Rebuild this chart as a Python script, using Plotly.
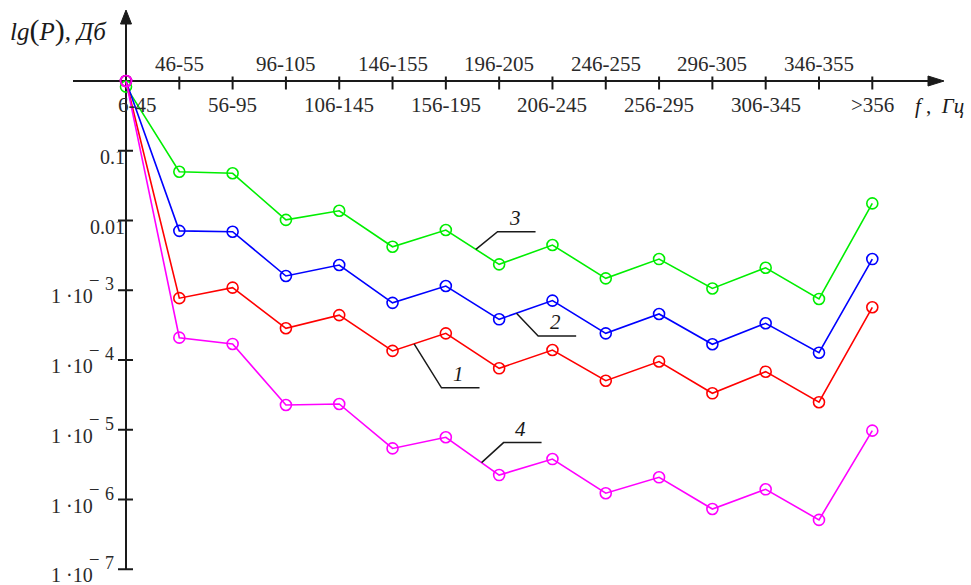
import numpy as np
import plotly.graph_objects as go

# Frequency bands (Hz) along the horizontal axis
bands = ["6-45", "46-55", "56-95", "96-105", "106-145", "146-155", "156-195",
         "196-205", "206-245", "246-255", "256-295", "296-305", "306-345",
         "346-355", ">356"]

# Spectral power per band for the four records
p1 = [1.0, 7.7e-4, 1.09e-3, 2.85e-4, 4.4e-4, 1.35e-4, 2.41e-4, 7.6e-5,
      1.39e-4, 5.05e-5, 9.5e-5, 3.33e-5, 6.8e-5, 2.48e-5, 5.7e-4]
p2 = [1.0, 7.1e-3, 6.9e-3, 1.6e-3, 2.3e-3, 6.6e-4, 1.15e-3, 3.83e-4,
      7.1e-4, 2.41e-4, 4.57e-4, 1.68e-4, 3.36e-4, 1.27e-4, 2.8e-3]
p3 = [0.83, 0.050, 0.0475, 0.0102, 0.0138, 0.0042, 0.0073, 0.00235,
      0.00445, 0.00148, 0.0028, 0.00106, 0.0021, 7.5e-4, 0.0176]
p4 = [1.0, 2.09e-4, 1.7e-4, 2.26e-5, 2.34e-5, 5.4e-6, 7.8e-6, 2.24e-6,
      3.8e-6, 1.23e-6, 2.08e-6, 7.3e-7, 1.4e-6, 5.1e-7, 9.7e-6]

decades = [-1, -2, -3, -4, -5, -6, -7]

W, H = 971, 585
PX_X = 53.307          # pixels per band
PX_DEC = 69.75         # pixels per decade
X0_PX, Y1_PX = 126.0, 81.0   # pixel position of (first band, P = 1)

xr = [-X0_PX / PX_X, (W - X0_PX) / PX_X]
yr = [(Y1_PX - H) / PX_DEC, Y1_PX / PX_DEC]

idx = list(range(len(bands)))
SERIF = "Liberation Serif, Times New Roman, serif"
INK = "#1a1a1a"

fig = go.Figure()

def px_dx(d):
    return d / PX_X

def px_dy_log(d):
    # upward pixel offset expressed as log10 shift
    return d / PX_DEC

# ---- axes drawn as plain line traces ----
tip_y = 10 ** px_dy_log(Y1_PX - 10)
base_y = 10 ** px_dy_log(Y1_PX - 24)
tip_x = px_dx(944 - X0_PX)
base_x = px_dx(928 - X0_PX)
line_kw = dict(mode="lines", hoverinfo="skip", showlegend=False,
               line=dict(color=INK, width=2))
fig.add_trace(go.Scatter(x=[px_dx(73 - X0_PX), base_x], y=[1, 1], **line_kw))
fig.add_trace(go.Scatter(x=[0, 0], y=[10 ** decades[-1], base_y], **line_kw))

# arrow heads
fig.add_trace(go.Scatter(
    x=[0, px_dx(-5.5), px_dx(5.5), 0],
    y=[tip_y, base_y, base_y, tip_y],
    mode="lines", fill="toself", fillcolor=INK, hoverinfo="skip",
    showlegend=False, line=dict(color=INK, width=1)))
fig.add_trace(go.Scatter(
    x=[tip_x, base_x, base_x, tip_x],
    y=[1, 10 ** px_dy_log(5), 10 ** px_dy_log(-5), 1],
    mode="lines", fill="toself", fillcolor=INK, hoverinfo="skip",
    showlegend=False, line=dict(color=INK, width=1)))

# tick marks
tx, ty = [], []
for i in idx[1:]:
    tx += [i, i, None]
    ty += [10 ** px_dy_log(4.5), 10 ** px_dy_log(-8.5), None]
for d in decades:
    tx += [px_dx(-8), px_dx(7), None]
    ty += [10 ** d, 10 ** d, None]
fig.add_trace(go.Scatter(x=tx, y=ty, **line_kw))

# ---- data series ----
series = [(p3, "#00ee00"), (p2, "#0000ff"), (p1, "#ff0000"), (p4, "#ff00ff")]
for vals, col in series:
    fig.add_trace(go.Scatter(
        x=idx, y=vals, mode="lines+markers", showlegend=False,
        line=dict(color=col, width=1.6),
        marker=dict(symbol="circle-open", size=11, color=col,
                    line=dict(width=1.6, color=col))))

# ---- curve callouts ----
callouts = [
    ("3", p3, 6, 0.563, 21.7, 17.6),
    ("2", p2, 7, 0.325, 21.7, -22.7),
    ("1", p1, 5, 0.405, 27.4, -44.0),
    ("4", p4, 6, 0.67, 22.0, 20.0),
]
annotations = []
for text, vals, seg, frac, dx, dy in callouts:
    lx = seg + frac
    ly = np.log10(vals[seg]) + frac * (np.log10(vals[seg + 1]) - np.log10(vals[seg]))
    ex = lx + px_dx(dx)
    ey = ly + px_dy_log(dy)
    fx = ex + px_dx(38)
    fig.add_trace(go.Scatter(
        x=[lx, ex, fx], y=[10 ** ly, 10 ** ey, 10 ** ey],
        mode="lines", hoverinfo="skip", showlegend=False,
        line=dict(color=INK, width=1.5)))
    annotations.append(dict(
        x=(ex + fx) / 2, y=ey, xref="x", yref="y", text=f"<i>{text}</i>",
        showarrow=False, yshift=14, xshift=-2,
        font=dict(family=SERIF, size=21, color=INK)))

# ---- band labels, alternating above / below the axis ----
for i, b in zip(idx, bands):
    above = i % 2 == 1
    annotations.append(dict(
        x=i, y=0, xref="x", yref="y", text=b, showarrow=False,
        xshift=11 if i == 0 else 0, yshift=17 if above else -24,
        font=dict(family=SERIF, size=21, color="#2a2a2a")))

# ---- decade labels ----
for d in decades:
    if d >= -2:
        annotations.append(dict(
            x=0, y=d, xref="x", yref="y", text=f"{10 ** d:g}",
            showarrow=False, xanchor="right", xshift=1, yshift=-6,
            font=dict(family=SERIF, size=20, color="#2a2a2a")))
    else:
        annotations.append(dict(
            x=0, y=d, xref="x", yref="y", text="1 \u00b710",
            showarrow=False, xanchor="right", xshift=-31, yshift=-6,
            font=dict(family=SERIF, size=20, color="#2a2a2a")))
        annotations.append(dict(
            x=0, y=d, xref="x", yref="y", text="\u2012",
            showarrow=False, xshift=-32, yshift=12,
            font=dict(family=SERIF, size=17, color="#2a2a2a")))
        annotations.append(dict(
            x=0, y=d, xref="x", yref="y", text=str(-d),
            showarrow=False, xshift=-17, yshift=6,
            font=dict(family=SERIF, size=18, color="#2a2a2a")))

# ---- axis titles ----
annotations.append(dict(
    x=0, y=0, xref="x", yref="y", showarrow=False, xanchor="right",
    xshift=-17, yshift=51,
    text="<i>lg</i><span style='font-size:30px'>(</span><i>P</i>"
         "<span style='font-size:30px'>)</span><i>, Дб</i>",
    font=dict(family=SERIF, size=25, color=INK)))
annotations.append(dict(
    x=14, y=0, xref="x", yref="y", showarrow=False, xanchor="left",
    xshift=41, yshift=-25, text="<i>f</i> ,  <i>Гц</i>",
    font=dict(family=SERIF, size=21, color=INK)))

fig.update_layout(
    width=W, height=H, autosize=False,
    margin=dict(l=0, r=0, t=0, b=0),
    paper_bgcolor="white", plot_bgcolor="white",
    xaxis=dict(range=xr, visible=False, fixedrange=True),
    yaxis=dict(type="log", range=yr, visible=False, fixedrange=True),
    annotations=annotations,
    hovermode=False,
)

fig.write_html("out.html")
